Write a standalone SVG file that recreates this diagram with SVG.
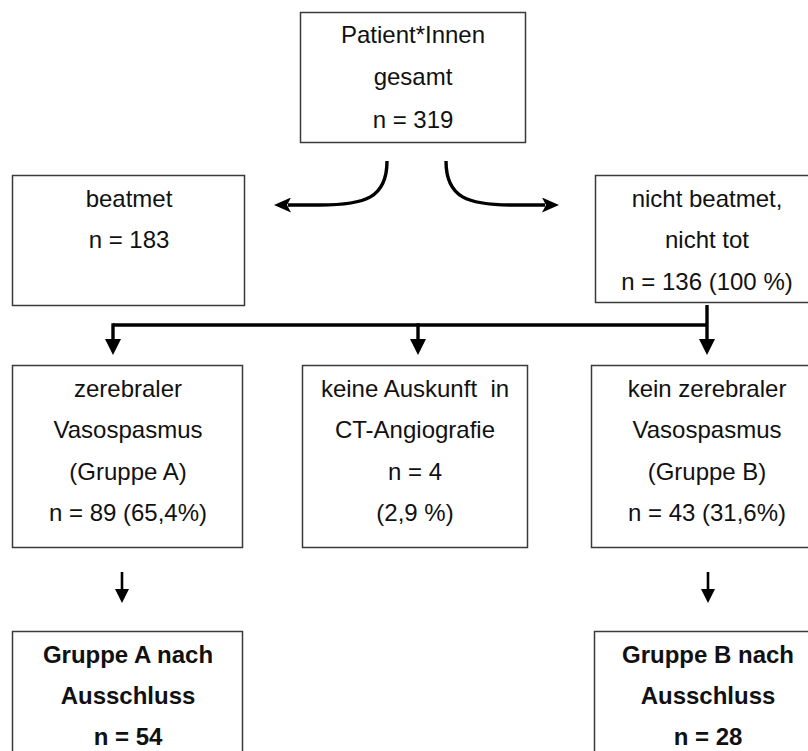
<svg xmlns="http://www.w3.org/2000/svg" width="808" height="751" viewBox="0 0 808 751">
<style>
.box{fill:#fff;stroke:#3a3a3a;stroke-width:1.5}
.t{font-family:"Liberation Sans",Arial,Helvetica,sans-serif;font-size:24px;fill:#111;text-anchor:middle}
.b{font-weight:bold}
.c{fill:none;stroke:#000;stroke-width:3.4}
.c2{fill:none;stroke:#000;stroke-width:2.6}
</style>
<defs>
<marker id="ah" markerUnits="userSpaceOnUse" markerWidth="17" markerHeight="15" refX="3" refY="7.5" orient="auto" viewBox="0 0 17 15"><path d="M0,0 L17,7.5 L0,15 L4,7.5 z" fill="#000"/></marker>
<marker id="tri" markerUnits="userSpaceOnUse" markerWidth="16" markerHeight="16" refX="1" refY="8" orient="auto" viewBox="0 0 16 16"><path d="M0,0 L16,8 L0,16 z" fill="#000"/></marker>
<marker id="tri2" markerUnits="userSpaceOnUse" markerWidth="14" markerHeight="14" refX="1" refY="7" orient="auto" viewBox="0 0 14 14"><path d="M0,0 L14,7 L0,14 z" fill="#000"/></marker>
</defs>
<rect width="808" height="751" fill="#fff"/>
<g id="connectors">
<path class="c" d="M387,161 C387,198 365,205 320,205 L288,205" marker-end="url(#ah)"/>
<path class="c" d="M446,161 C446,198 468,205 513,205 L545,205" marker-end="url(#ah)"/>
<path class="c" d="M113,325 L707,325"/>
<path class="c" d="M707,305 L707,340" marker-end="url(#tri)"/>
<path class="c" d="M113,323.3 L113,340" marker-end="url(#tri)"/>
<path class="c" d="M418,323.3 L418,340" marker-end="url(#tri)"/>
<path class="c2" d="M122,572 L122,590" marker-end="url(#tri2)"/>
<path class="c2" d="M708,572 L708,590" marker-end="url(#tri2)"/>
</g>
<g id="total">
<rect class="box" x="300.5" y="12.5" width="225" height="130"/>
<text class="t" x="413" y="43">Patient*Innen</text>
<text class="t" x="413" y="85">gesamt</text>
<text class="t" x="413" y="128">n = 319</text>
</g>
<g id="beatmet">
<rect class="box" x="12.5" y="175.5" width="232" height="130"/>
<text class="t" x="129" y="207">beatmet</text>
<text class="t" x="129" y="248">n = 183</text>
</g>
<g id="nichtbeatmet">
<rect class="box" x="595.5" y="175.5" width="225" height="127"/>
<text class="t" x="707" y="207">nicht beatmet,</text>
<text class="t" x="707" y="248">nicht tot</text>
<text class="t" x="707" y="290">n = 136 (100 %)</text>
</g>
<g id="gruppeA">
<rect class="box" x="12.5" y="365.5" width="230" height="182"/>
<text class="t" x="128" y="397">zerebraler</text>
<text class="t" x="128" y="438">Vasospasmus</text>
<text class="t" x="128" y="480">(Gruppe A)</text>
<text class="t" x="128" y="521">n = 89 (65,4%)</text>
</g>
<g id="keineAuskunft">
<rect class="box" x="302.5" y="365.5" width="225" height="182"/>
<text class="t" x="415" y="397" style="white-space:pre" xml:space="preserve">keine Auskunft  in</text>
<text class="t" x="415" y="438">CT-Angiografie</text>
<text class="t" x="415" y="480">n = 4</text>
<text class="t" x="415" y="521">(2,9 %)</text>
</g>
<g id="gruppeB">
<rect class="box" x="591.5" y="365.5" width="230" height="182"/>
<text class="t" x="707" y="397">kein zerebraler</text>
<text class="t" x="707" y="438">Vasospasmus</text>
<text class="t" x="707" y="480">(Gruppe B)</text>
<text class="t" x="707" y="521">n = 43 (31,6%)</text>
</g>
<g id="gruppeAfinal">
<rect class="box" x="12.5" y="631.5" width="230" height="140"/>
<text class="t b" x="128" y="663">Gruppe A nach</text>
<text class="t b" x="128" y="704">Ausschluss</text>
<text class="t b" x="128" y="745">n = 54</text>
</g>
<g id="gruppeBfinal">
<rect class="box" x="594.5" y="631.5" width="230" height="140"/>
<text class="t b" x="708" y="663">Gruppe B nach</text>
<text class="t b" x="708" y="704">Ausschluss</text>
<text class="t b" x="708" y="745">n = 28</text>
</g>
</svg>
